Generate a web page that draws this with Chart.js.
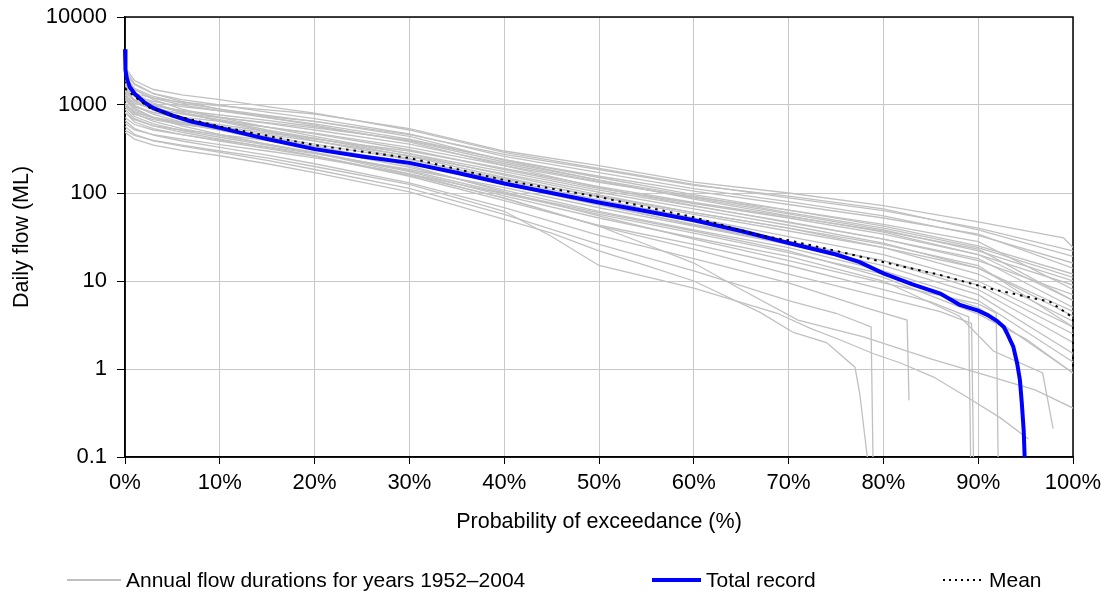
<!DOCTYPE html>
<html>
<head>
<meta charset="utf-8">
<script src="https://cdn.jsdelivr.net/npm/chart.js@4.4.0/dist/chart.umd.min.js"></script>
<style>
body { margin: 0; background: #fff; font-family: "Liberation Sans", Arial, sans-serif; }
#wrap { position: relative; width: 1108px; height: 599px; }
#legend { position: absolute; left: 0; top: 567px; width: 1108px; height: 26px; font-size: 21px; color: #000; }
.item { position: absolute; top: 0; height: 26px; display: flex; align-items: center; white-space: nowrap; }
.swatch { display: inline-block; margin-right: 5px; }
</style>
</head>
<body>
<div id="wrap">
  <canvas id="flowChart" width="1108" height="599"></canvas>
  <div id="legend">
    <div class="item" style="left:67px"><span class="swatch" style="width:54px;height:1.5px;background:#c0c0c0"></span>Annual flow durations for years 1952–2004</div>
    <div class="item" style="left:652px"><span class="swatch" style="width:49px;height:4px;background:#0000ff"></span>Total record</div>
    <div class="item" style="left:943px"><span class="swatch" style="width:41px;height:2px;background:repeating-linear-gradient(90deg,#000 0 2px,transparent 2px 6px)"></span>Mean</div>
  </div>
</div>
<script>
// axis ticks
const yTicks = [0.1, 1, 10, 100, 1000, 10000];
const yTickLabels = ["0.1", "1", "10", "100", "1000", "10000"];
const xTicks = [0, 10, 20, 30, 40, 50, 60, 70, 80, 90, 100];

// total record: [exceedance %, flow ML]
const totalRecord = [
    [0, 4300], [0.05, 2500], [0.2, 2000], [0.5, 1600], [1, 1350], [2, 1080], [3, 920], [5, 760],
    [7, 650], [10, 550], [15, 410], [20, 315], [25, 260], [30, 220], [35, 170], [40, 128],
    [45, 100], [50, 78], [55, 62], [60, 49], [65, 37], [70, 27], [75, 20], [77.5, 16.4],
    [80, 12.2], [83, 9.2], [86, 7.2], [88, 5.4], [90, 4.6], [91, 4.1], [92, 3.5], [92.7, 3.0],
    [93, 2.6], [93.7, 1.8], [94.1, 1.17], [94.4, 0.75], [94.6, 0.41], [94.8, 0.2], [94.9, 0.1]
];

// mean of annual durations
const meanFlow = [
    [0, 1550], [1, 1250], [2.6, 930], [5, 770], [10, 570], [20, 350], [30, 250], [40, 140],
    [50, 90], [60, 53], [67, 33], [70, 29], [75, 22], [80, 16.4], [86, 11.7], [91, 8.3],
    [97.6, 5.8], [99.6, 4.1], [100, 3.8], [100, 1.0]
];

// annual flow durations, one list per year
const annualFlows = [
    [[0,1700],[1,1350],[3,1200],[6,1080],[10,980],[15,880],[20,790],[30,540],[40,300],[50,205],[60,133],[70,100],[80,72],[90,47],[99,31],[100,24]],
    [[0,2700],[1,1900],[3,1500],[6,1300],[10,1150],[15,960],[20,810],[30,520],[40,290],[50,190],[60,125],[70,88],[80,63],[90,40],[100,22]],
    [[0,1500],[1,1250],[3,1100],[6,960],[10,860],[15,740],[20,650],[30,460],[40,275],[50,185],[60,122],[70,92],[80,66],[90,38],[100,19]],
    [[0,2300],[1,1700],[3,1350],[6,1150],[10,1000],[15,830],[20,700],[30,470],[40,260],[50,170],[60,112],[70,80],[80,55],[90,33],[100,16]],
    [[0,1300],[1,1050],[3,900],[6,800],[10,720],[15,630],[20,550],[30,400],[40,240],[50,155],[60,105],[70,74],[80,52],[90,34],[100,14]],
    [[0,2000],[1,1500],[3,1200],[6,1000],[10,860],[15,720],[20,610],[30,410],[40,240],[50,150],[60,96],[70,64],[80,42],[90,25],[100,12]],
    [[0,1650],[1,1250],[3,1000],[6,850],[10,730],[15,620],[20,520],[30,360],[40,215],[50,135],[60,88],[70,58],[80,38],[90,22],[100,10]],
    [[0,1150],[1,950],[3,820],[6,730],[10,650],[15,560],[20,480],[30,330],[40,205],[50,132],[60,90],[70,64],[80,44],[90,28],[100,8]],
    [[0,2500],[1,1750],[3,1350],[6,1100],[10,900],[15,720],[20,590],[30,380],[40,205],[50,115],[60,72],[70,46],[80,30],[90,17],[100,7]],
    [[0,1400],[1,1100],[3,920],[6,790],[10,680],[15,560],[20,470],[30,310],[40,185],[50,113],[60,76],[70,52],[80,34],[90,20],[100,6]],
    [[0,1250],[1,980],[3,820],[6,700],[10,600],[15,500],[20,415],[30,280],[40,175],[50,108],[60,71],[70,47],[80,30],[90,18],[100,5]],
    [[0,950],[1,780],[3,680],[6,600],[10,540],[15,460],[20,390],[30,265],[40,165],[50,102],[60,66],[70,43],[80,27],[90,14],[100,4.5]],
    [[0,1750],[1,1300],[3,1000],[6,820],[10,670],[15,520],[20,420],[30,260],[40,150],[50,90],[60,57],[70,37],[80,24],[90,14],[100,4]],
    [[0,1050],[1,840],[3,710],[6,610],[10,520],[15,440],[20,360],[30,240],[40,145],[50,92],[60,60],[70,40],[80,24],[90,12],[100,3.5]],
    [[0,820],[1,680],[3,580],[6,520],[10,460],[15,395],[20,330],[30,225],[40,140],[50,84],[60,52],[70,32],[80,20],[90,10],[100,3]],
    [[0,1950],[1,1350],[3,1050],[6,830],[10,650],[15,500],[20,390],[30,245],[40,135],[50,75],[60,43],[70,27],[80,17],[90,9],[100,2.5]],
    [[0,1150],[1,880],[3,730],[6,620],[10,520],[15,420],[20,340],[30,215],[40,125],[50,73],[60,44],[70,28],[80,17],[90,8],[100,2]],
    [[0,720],[1,600],[3,520],[6,460],[10,400],[15,335],[20,280],[30,185],[40,115],[50,68],[60,42],[70,26],[80,15],[90,7],[100,1.5]],
    [[0,1350],[1,980],[3,780],[6,640],[10,520],[15,400],[20,320],[30,195],[40,108],[50,62],[60,38],[70,24],[80,13],[90,6],[100,1.2]],
    [[0,620],[1,520],[3,460],[6,410],[10,355],[15,300],[20,250],[30,165],[40,98],[50,57],[60,35],[70,21],[80,12],[90,5],[100,0.9]],
    [[0,900],[1,700],[3,580],[6,490],[10,410],[15,330],[20,265],[30,160],[40,88],[50,42],[55,26],[60,16],[65,8],[71,3.6],[78,2.3],[85,1.3],[89,0.97],[96,0.58],[100,0.36]],
    [[0,980],[1,740],[3,610],[6,510],[10,430],[15,350],[20,285],[30,175],[40,93],[50,52],[60,31],[70,19],[80,10],[88,4],[91.6,1.6],[96.8,0.9],[97.9,0.21]],
    [[0,520],[1,450],[3,395],[6,350],[10,300],[15,250],[20,200],[30,125],[40,62],[45,32],[50,15],[60,8.3],[68.8,4.3],[72.3,2.9],[75.4,2.15],[78.9,1.5],[81.8,1.17],[85.3,0.81],[88.8,0.48],[92.3,0.28],[95.3,0.16]],
    [[0,1550],[1,1120],[3,870],[6,700],[10,560],[15,430],[20,340],[30,205],[40,103],[50,55],[60,30],[70,17],[80,9.5],[90,5.5],[91.9,4.3],[92.1,0.1]],
    [[0,830],[1,640],[3,540],[6,460],[10,390],[15,320],[20,260],[30,155],[40,82],[50,43],[60,26],[70,15],[80,8],[85,5.8],[89,3.9],[89.2,0.1]],
    [[0,1220],[1,920],[3,720],[6,580],[10,465],[15,360],[20,285],[30,165],[40,87],[50,42],[60,23],[70,12],[80,6.5],[86,4.5],[89.3,3.3],[89.5,0.1]],
    [[0,670],[1,540],[3,455],[6,390],[10,330],[15,270],[20,215],[30,130],[40,68],[50,33],[60,18],[70,9.5],[78,5],[82.5,3.6],[82.7,0.44]],
    [[0,570],[1,465],[3,390],[6,340],[10,290],[15,235],[20,185],[30,113],[40,57],[50,26],[60,13],[70,6],[75,4.3],[78.7,3.0],[78.9,0.1]],
    [[0,490],[1,410],[3,350],[6,305],[10,265],[15,215],[20,170],[30,103],[40,50],[45,35],[50,22],[55,15],[60,10],[67,4.4],[70.5,2.6],[74,2.0],[77,1.05],[77.5,0.53],[78.3,0.1]],
    [[0,1050],[1,800],[3,650],[6,540],[10,450],[15,360],[20,290],[30,180],[40,100],[50,60],[60,37],[70,22],[80,11],[90,4.2],[95,2.2],[100,0.9]],
    [[0,2100],[1,1550],[3,1250],[6,1050],[10,900],[15,760],[20,650],[30,440],[40,235],[50,140],[60,85],[70,55],[80,36],[90,20],[100,9]],
    [[0,1450],[1,1150],[3,980],[6,870],[10,770],[15,670],[20,570],[30,390],[40,225],[50,140],[60,92],[70,60],[80,40],[90,24],[100,11]],
    [[0,1000],[1,820],[3,720],[6,640],[10,570],[15,480],[20,410],[30,300],[40,190],[50,118],[60,78],[70,54],[80,37],[90,23],[100,6]],
    [[0,2200],[1,1500],[3,1150],[6,900],[10,720],[15,560],[20,440],[30,280],[40,160],[50,95],[60,60],[70,40],[80,26],[90,15],[100,3]]
];

function toPoints(list) {
    return list.map(p => ({ x: p[0], y: p[1] }));
}

Chart.defaults.font.family = "'Liberation Sans', Arial, sans-serif";
Chart.defaults.font.size = 22;
Chart.defaults.color = "#000";

const datasets = [
    {
        label: "Mean",
        data: toPoints(meanFlow),
        borderColor: "#000",
        borderWidth: 2,
        borderDash: [2.5, 5],
        clip: 3
    },
    {
        label: "Total record",
        data: toPoints(totalRecord),
        borderColor: "#0000ff",
        borderWidth: 4,
        clip: 3
    }
];
for (const year of annualFlows) {
    datasets.push({
        label: "Annual",
        data: toPoints(year),
        borderColor: "#c0c0c0",
        borderWidth: 1.3
    });
}

const frame = {
    id: "frame",
    beforeDatasetsDraw(chart) {
        const { ctx, chartArea: a } = chart;
        ctx.save();
        ctx.strokeStyle = "#000";
        ctx.lineWidth = 1.5;
        ctx.strokeRect(a.left, a.top, a.right - a.left, a.bottom - a.top);
        ctx.restore();
    }
};

new Chart("flowChart", {
    type: "line",
    data: { datasets: datasets },
    plugins: [frame],
    options: {
        responsive: false,
        animation: false,
        devicePixelRatio: 1,
        layout: { padding: { top: 17, right: 35, bottom: 60, left: 0 } },
        elements: { point: { radius: 0 }, line: { tension: 0 } },
        plugins: { legend: { display: false }, tooltip: { enabled: false } },
        scales: {
            x: {
                type: "linear",
                min: 0,
                max: 100,
                afterFit: s => { s.height = 82; },
                afterBuildTicks: s => { s.ticks = xTicks.map(v => ({ value: v })); },
                ticks: { padding: 6, maxRotation: 0, callback: v => v + "%" },
                grid: { color: "#c8c8c8", tickColor: "#000", tickLength: 7 },
                border: { color: "#000", width: 1.5 },
                title: { display: true, text: "Probability of exceedance (%)", font: { size: 21.5 }, padding: { top: 0, bottom: 4 } }
            },
            y: {
                type: "logarithmic",
                min: 0.1,
                max: 10000,
                afterFit: s => { s.width = 125; s.paddingTop = 0; s.paddingBottom = 0; },
                afterBuildTicks: s => { s.ticks = yTicks.map(v => ({ value: v })); },
                ticks: { padding: 10, callback: v => yTickLabels[yTicks.indexOf(v)] },
                grid: { color: "#c8c8c8", tickColor: "#000", tickLength: 8 },
                border: { color: "#000", width: 1.5 },
                title: { display: true, text: "Daily flow (ML)", font: { size: 21.5 }, padding: { top: 9, bottom: 0 } }
            }
        }
    }
});
</script>
</body>
</html>
